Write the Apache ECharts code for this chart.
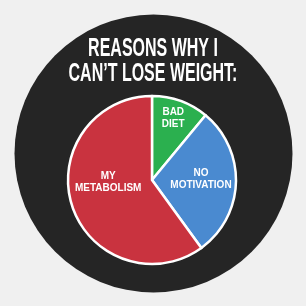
<!DOCTYPE html>
<html>
<head>
<meta charset="utf-8">
<script src="https://cdn.jsdelivr.net/npm/echarts@6/dist/echarts.min.js"></script>
<style>
html,body{margin:0;padding:0;background:#f0f0f0;}
#main{width:306px;height:306px;}
</style>
</head>
<body>
<div id="main"></div>
<script>
var titleLines = ["REASONS WHY I", "CAN\u2019T LOSE WEIGHT:"];
var categories = ["BAD\nDIET", "NO\nMOTIVATION", "MY\nMETABOLISM"];
var values = [11, 29, 60];
var colors = ["#2bb04f", "#4a8ad0", "#c9333f"];
var labelShift = [[6, -19], [4, -2], [-1, -12]];

var chart = echarts.init(document.getElementById('main'), null, {renderer: 'canvas'});
var data = categories.map(function (c, i) {
  return {name: c, value: values[i], itemStyle: {color: colors[i]}};
});
var titleFont = 'bold 25px "Liberation Sans", Arial, sans-serif';
chart.setOption({
  backgroundColor: '#f0f0f0',
  animation: false,
  graphic: [
    {type: 'circle', z: -10, shape: {cx: 153.5, cy: 153.5, r: 139}, style: {fill: '#252525'}},
    {type: 'text', z: 10, x: 153, y: 49.5, scaleX: 0.64,
     style: {text: titleLines[0], fill: '#ffffff', font: titleFont, textAlign: 'center', textVerticalAlign: 'middle'}},
    {type: 'text', z: 10, x: 153, y: 74, scaleX: 0.64,
     style: {text: titleLines[1], fill: '#ffffff', font: titleFont, textAlign: 'center', textVerticalAlign: 'middle'}}
  ],
  series: [{
    type: 'pie',
    center: [152, 180],
    radius: [0, 84],
    startAngle: 90,
    clockwise: true,
    silent: true,
    itemStyle: {borderColor: '#ffffff', borderWidth: 2.5},
    label: {
      show: true,
      position: 'inside',
      color: '#ffffff',
      fontFamily: '"Liberation Sans", Arial, sans-serif',
      fontWeight: 'bold',
      fontSize: 10,
      lineHeight: 12,
      align: 'center',
      formatter: function (p) { return p.name; }
    },
    labelLayout: function (p) {
      var s = labelShift[p.dataIndex];
      return {dx: s[0], dy: s[1]};
    },
    labelLine: {show: false},
    data: data
  }]
});
</script>
</body>
</html>
